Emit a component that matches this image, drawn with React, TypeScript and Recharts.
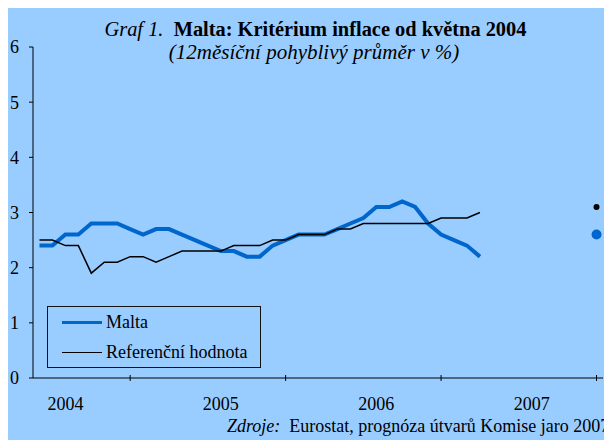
import { ComposedChart, Legend, Line, XAxis, YAxis } from "recharts";

const serif = '"Liberation Serif", "Times New Roman", serif';
const bg = "#99CCFF";
const blue = "#0066CC";

const months = [
  "2004-05", "2004-06", "2004-07", "2004-08", "2004-09", "2004-10", "2004-11", "2004-12",
  "2005-01", "2005-02", "2005-03", "2005-04", "2005-05", "2005-06", "2005-07", "2005-08",
  "2005-09", "2005-10", "2005-11", "2005-12", "2006-01", "2006-02", "2006-03", "2006-04",
  "2006-05", "2006-06", "2006-07", "2006-08", "2006-09", "2006-10", "2006-11", "2006-12",
  "2007-01", "2007-02", "2007-03",
];
const malta = [
  2.4, 2.4, 2.6, 2.6, 2.8, 2.8, 2.8, 2.7, 2.6, 2.7, 2.7, 2.6, 2.5, 2.4, 2.3, 2.3, 2.2, 2.2,
  2.4, 2.5, 2.6, 2.6, 2.6, 2.7, 2.8, 2.9, 3.1, 3.1, 3.2, 3.1, 2.8, 2.6, 2.5, 2.4, 2.2,
];
const reference = [
  2.5, 2.5, 2.4, 2.4, 1.9, 2.1, 2.1, 2.2, 2.2, 2.1, 2.2, 2.3, 2.3, 2.3, 2.3, 2.4, 2.4, 2.4,
  2.5, 2.5, 2.6, 2.6, 2.6, 2.7, 2.7, 2.8, 2.8, 2.8, 2.8, 2.8, 2.8, 2.9, 2.9, 2.9, 3.0,
];
// prognoza Komise pro rok 2007
const forecastMonth = "2007-12";
const maltaForecast = 2.6;
const referenceForecast = 3.1;

const yearLabels = ["2004", "2005", "2006", "2007"];
const yearLabelMonths = ["2004-07", "2005-07", "2006-07", "2007-07"];
const yearEndMonths = ["2004-12", "2005-12", "2006-12", "2007-12"];
const yTicks = [0, 1, 2, 3, 4, 5, 6];
const legendKeys = ["malta", "reference"];

const monthIndex = (m: string) => {
  const [y, mo] = m.split("-").map(Number);
  return (y - 2004) * 12 + mo - 5;
};

const data = [
  ...months.map((m, k) => ({ x: monthIndex(m), malta: malta[k], reference: reference[k] })),
  { x: monthIndex(forecastMonth), maltaF: maltaForecast, referenceF: referenceForecast },
];

const labelAt = new Map(yearLabelMonths.map((m, k) => [monthIndex(m), yearLabels[k]]));
const xTicks = [...yearLabelMonths, ...yearEndMonths].map(monthIndex).sort((a, b) => a - b);

const XTick = (props: any) => {
  const { x, y, payload } = props;
  const label = labelAt.get(payload.value);
  if (label) {
    return (
      <text x={x} y={y + 32} textAnchor="middle" fontSize={18} fontFamily={serif} fill="#000">
        {label}
      </text>
    );
  }
  return <line x1={x} x2={x} y1={y - 3} y2={y + 3} stroke="#000" />;
};

const renderLegend = (props: any) => {
  const items = (props.payload || []).filter((p: any) => legendKeys.includes(p.dataKey));
  return (
    <div
      style={{
        width: 214,
        height: 62,
        boxSizing: "border-box",
        border: "1px solid #111",
        position: "relative",
        background: bg,
      }}
    >
      {items.map((p: any, k: number) => (
        <div
          key={p.value}
          style={{ position: "absolute", left: 14, top: 4 + k * 30, height: 22, display: "flex", alignItems: "center" }}
        >
          <span style={{ width: 40, borderTop: `${k === 0 ? 3 : 1.5}px solid ${p.color}` }} />
          <span style={{ marginLeft: 4, fontSize: 18, fontFamily: serif, color: "#000", whiteSpace: "nowrap" }}>
            {p.value}
          </span>
        </div>
      ))}
    </div>
  );
};

export default function App() {
  return (
    <div
      style={{
        position: "relative",
        width: 604,
        height: 435,
        marginTop: -3,
        background: bg,
        overflow: "hidden",
        fontFamily: serif,
      }}
    >
      <ComposedChart width={604} height={435} data={data} margin={{ top: 42, right: 9, left: 0, bottom: 22 }}>
        <XAxis
          dataKey="x"
          type="number"
          domain={[-0.5, 43.5]}
          ticks={xTicks}
          interval={0}
          tick={<XTick />}
          tickLine={false}
          tickSize={0}
          tickMargin={0}
          height={40}
          axisLine={{ stroke: "#000" }}
          allowDataOverflow
        />
        <YAxis
          type="number"
          domain={[0, 6]}
          ticks={yTicks}
          interval={0}
          width={25}
          tickSize={4}
          tickMargin={10}
          tick={{ fill: "#000", fontSize: 18, fontFamily: serif }}
          tickLine={{ stroke: "#000" }}
          axisLine={{ stroke: "#000" }}
        />
        <Legend
          layout="vertical"
          align="center"
          verticalAlign="middle"
          content={renderLegend}
          wrapperStyle={{ left: 39, top: 301, width: 214, height: 62 }}
        />
        <Line
          dataKey="malta"
          name="Malta"
          stroke={blue}
          strokeWidth={4}
          dot={false}
          isAnimationActive={false}
        />
        <Line
          dataKey="reference"
          name="Referenční hodnota"
          stroke="#000"
          strokeWidth={1.5}
          dot={false}
          isAnimationActive={false}
        />
        <Line
          dataKey="maltaF"
          stroke="none"
          legendType="none"
          dot={{ r: 5, fill: blue, stroke: "none" }}
          isAnimationActive={false}
        />
        <Line
          dataKey="referenceF"
          stroke="none"
          legendType="none"
          dot={{ r: 3, fill: "#000", stroke: "none" }}
          isAnimationActive={false}
        />
      </ComposedChart>
      <div
        style={{
          position: "absolute",
          left: 0,
          width: 615,
          top: 14,
          textAlign: "center",
          fontSize: 20.4,
          lineHeight: "21px",
          whiteSpace: "nowrap",
          color: "#000",
        }}
      >
        <i>Graf 1.</i>&nbsp; <b>Malta: Kritérium inflace od května 2004</b>
      </div>
      <div
        style={{
          position: "absolute",
          left: 0,
          width: 612,
          top: 37,
          textAlign: "center",
          fontSize: 21,
          lineHeight: "21px",
          fontStyle: "italic",
          whiteSpace: "nowrap",
          color: "#000",
        }}
      >
        (12měsíční pohyblivý průměr v %)
      </div>
      <div
        style={{
          position: "absolute",
          left: 219,
          top: 412,
          fontSize: 18,
          lineHeight: "18px",
          whiteSpace: "nowrap",
          color: "#000",
        }}
      >
        <i>Zdroje:</i>&nbsp; Eurostat, prognóza útvarů Komise jaro 2007
      </div>
    </div>
  );
}
